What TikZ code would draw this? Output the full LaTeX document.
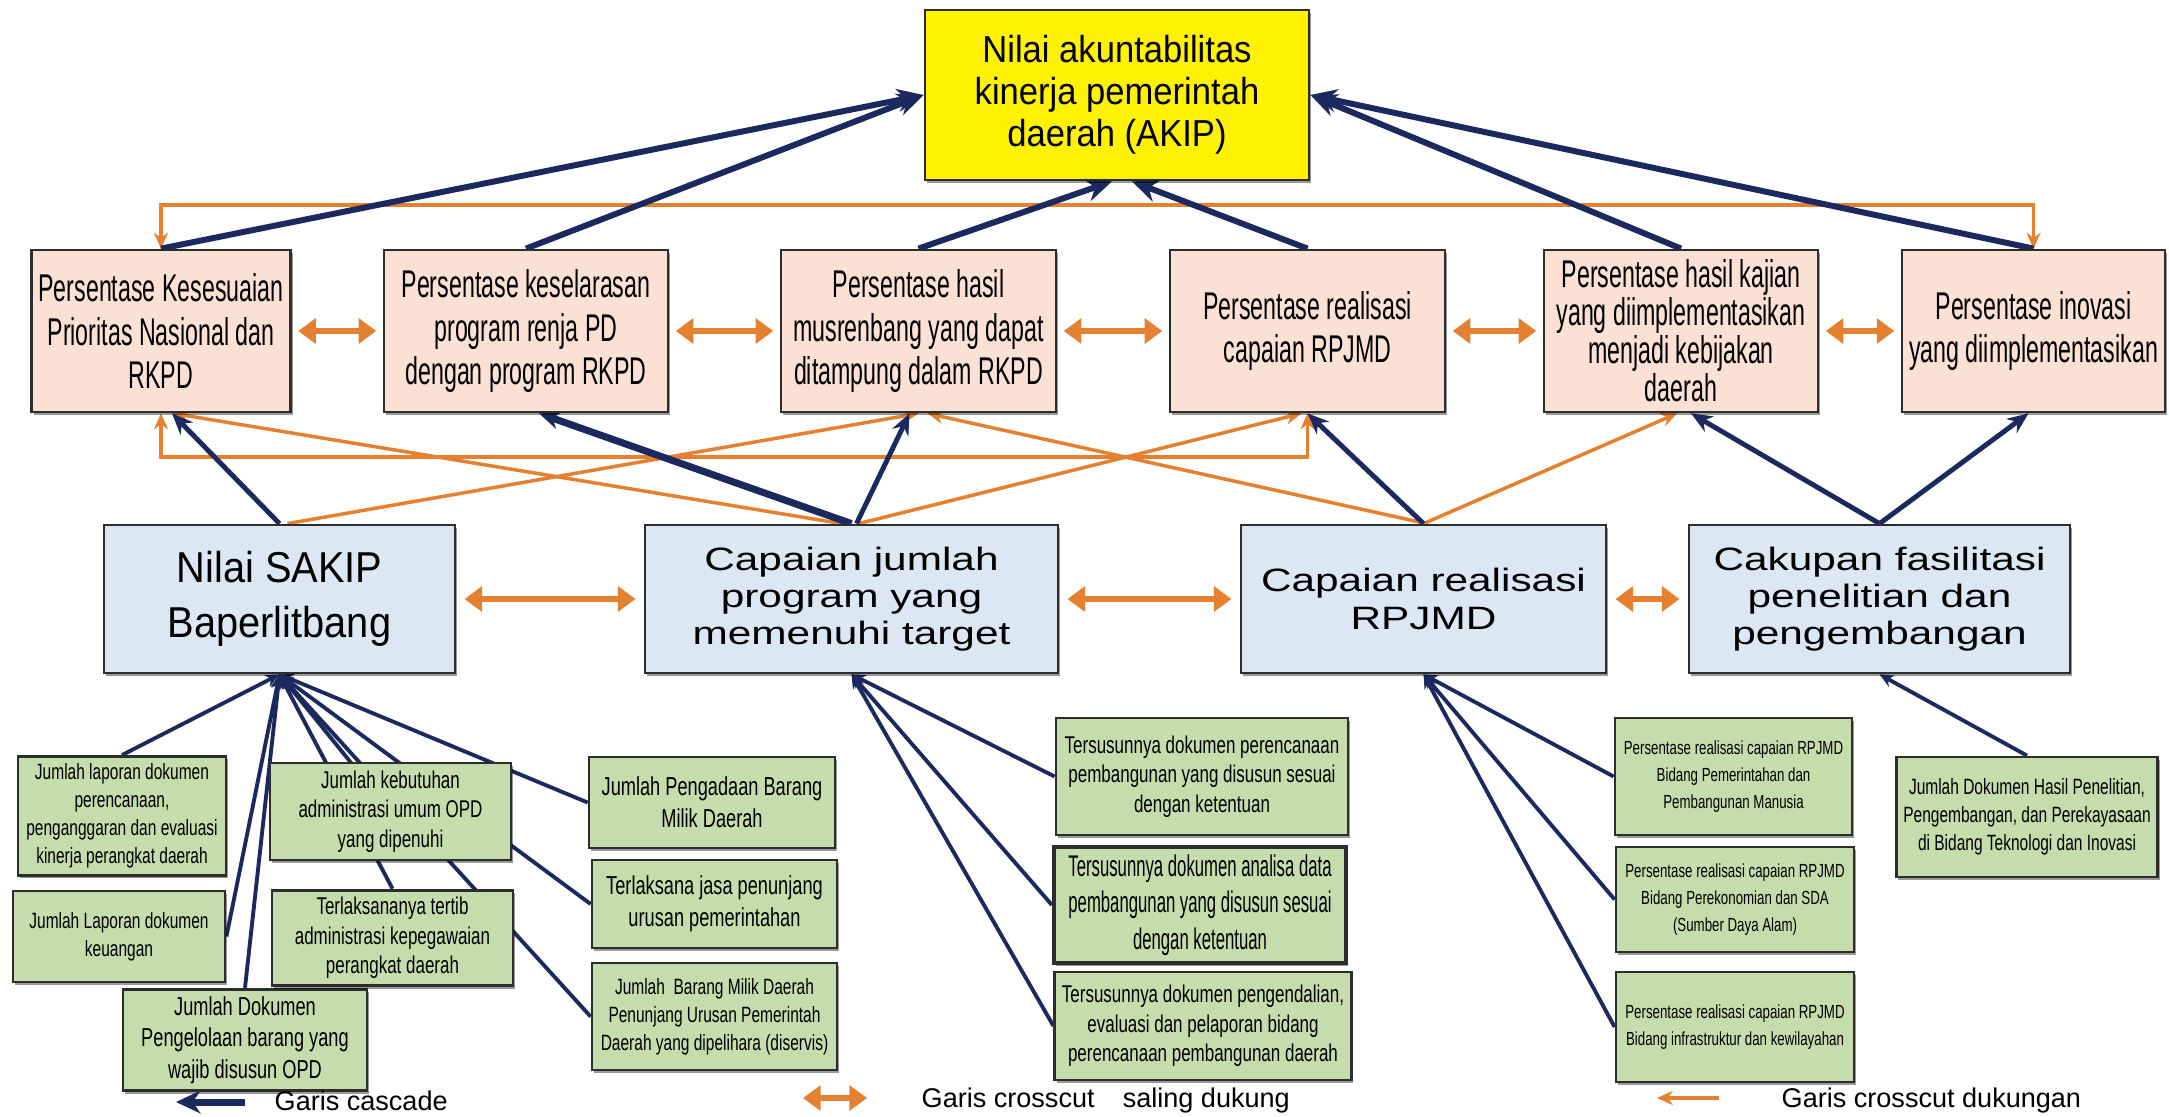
\documentclass[tikz,border=0pt]{standalone}
\usepackage{fontspec}
\usepackage{tikz}
\usetikzlibrary{arrows.meta,backgrounds,shadows}
\setmainfont{Liberation Sans}
\newfontfamily\narrowfont{Liberation Sans}[FakeStretch=0.92]
\newfontfamily\indfont{Liberation Sans}[FakeStretch=0.6]
\newfontfamily\widefont{Liberation Sans}[FakeStretch=1.31]
\newfontfamily\subfont{Liberation Sans}[FakeStretch=0.7]
\newfontfamily\tightfont{Liberation Sans}[FakeStretch=0.56]
\definecolor{cascadeblue}{RGB}{27,41,94}
\definecolor{crossorange}{RGB}{228,128,48}
\definecolor{peach}{RGB}{250,225,212}
\definecolor{skyfill}{RGB}{219,231,243}
\definecolor{leafgreen}{RGB}{197,220,172}
\definecolor{boxline}{RGB}{45,45,45}

\begin{document}
\begin{tikzpicture}[x=1cm,y=1cm,
  box/.style={draw=boxline, line width=0.8pt, align=center, inner sep=2pt,
    drop shadow={shadow xshift=0.6pt, shadow yshift=-0.8pt, fill=black, opacity=0.4}},
  goal/.style={box, fill=yellow, font=\narrowfont\fontsize{10.7}{12}\selectfont, minimum width=3.84cm, minimum height=1.70cm},
  ind/.style={box, fill=peach, font=\indfont\fontsize{11}{12.5}\selectfont, minimum height=1.62cm},
  indtight/.style={ind, font=\indfont\fontsize{11}{10.8}\selectfont},
  prog/.style={box, fill=skyfill, font=\widefont\fontsize{9.2}{10.6}\selectfont, minimum height=1.48cm},
  sakip/.style={prog, font=\narrowfont\fontsize{12.3}{15.5}\selectfont},
  sub/.style={box, fill=leafgreen, font=\subfont\fontsize{6.9}{8.4}\selectfont},
  subL/.style={sub, font=\subfont\fontsize{7.4}{9}\selectfont},
  subs/.style={sub, font=\subfont\fontsize{6.3}{8}\selectfont},
  subxs/.style={sub, font=\subfont\fontsize{5.4}{7.7}\selectfont},
  subT/.style={sub, line width=1.2pt, font=\tightfont\fontsize{8.5}{10.4}\selectfont},
  cascade/.style={draw=cascadeblue, line width=1.7pt, -{Stealth[length=7.5pt,width=6.5pt]}},
  rise/.style={draw=cascadeblue, line width=1.4pt, -{Stealth[length=6pt,width=5pt]}},
  feed/.style={draw=cascadeblue, line width=1.1pt, -{Stealth[length=4pt,width=3.6pt]}},
  mutual/.style={draw=crossorange, line width=1.7pt, {Triangle[length=5pt,width=7pt]}-{Triangle[length=5pt,width=7pt]}, shorten <=1.8pt, shorten >=1.8pt},
  support/.style={draw=crossorange, line width=1pt, -{Stealth[length=4.5pt,width=4pt]}},
  bracket/.style={draw=crossorange, line width=0.9pt, {Stealth[length=4.5pt,width=4pt]}-{Stealth[length=4.5pt,width=4pt]}},
  legend/.style={font=\fontsize{7.7}{9}\selectfont, anchor=west, inner sep=0pt}]

  \useasboundingbox (0,0) rectangle (21.69,11.16);

  \node[goal] (akip) at (11.17,10.21) {Nilai akuntabilitas\\kinerja pemerintah\\daerah (AKIP)};

  \node[ind, minimum width=2.50cm] (p1) at (1.61,7.85) {Persentase Kesesuaian\\Prioritas Nasional dan\\RKPD};
  \node[ind, minimum width=2.84cm] (p2) at (5.26,7.85) {Persentase keselarasan\\program renja PD\\dengan program RKPD};
  \node[ind, minimum width=2.75cm] (p3) at (9.185,7.85) {Persentase hasil\\musrenbang yang dapat\\ditampung dalam RKPD};
  \node[ind, minimum width=2.75cm] (p4) at (13.075,7.85) {Persentase realisasi\\capaian RPJMD};
  \node[indtight, minimum width=2.74cm] (p5) at (16.81,7.85) {Persentase hasil kajian\\yang diimplementasikan\\menjadi kebijakan\\daerah};
  \node[ind, minimum width=2.33cm] (p6) at (20.335,7.85) {Persentase inovasi\\yang diimplementasikan};

  \node[sakip, minimum width=3.51cm] (b1) at (2.795,5.17) {Nilai SAKIP\\Baperlitbang};
  \node[prog, minimum width=4.13cm] (b2) at (8.515,5.17) {Capaian jumlah\\program yang\\memenuhi target};
  \node[prog, minimum width=3.65cm] (b3) at (14.235,5.17) {Capaian realisasi\\RPJMD};
  \node[prog, minimum width=3.81cm] (b4) at (18.795,5.17) {Cakupan fasilitasi\\penelitian dan\\pengembangan};

  \node[subs, minimum width=2.08cm, minimum height=1.18cm] (g1) at (1.22,3.00) {Jumlah laporan dokumen\\perencanaan,\\penganggaran dan evaluasi\\kinerja perangkat daerah};
  \node[subs, minimum width=2.12cm, minimum height=0.91cm] (g2) at (1.19,1.795) {Jumlah Laporan dokumen\\keuangan};
  \node[subL, minimum width=2.44cm, minimum height=0.86cm] (g3) at (2.45,0.76) {Jumlah Dokumen\\Pengelolaan barang yang\\wajib disusun OPD};
  \node[sub, minimum width=2.41cm, minimum height=0.97cm] (g4) at (3.905,3.045) {Jumlah kebutuhan\\administrasi umum OPD\\yang dipenuhi};
  \node[sub, minimum width=2.41cm, minimum height=0.90cm] (g5) at (3.925,1.78) {Terlaksananya tertib\\administrasi kepegawaian\\perangkat daerah};
  \node[subL, minimum width=2.46cm, minimum height=0.91cm] (g6) at (7.12,3.135) {Jumlah Pengadaan Barang\\Milik Daerah};
  \node[subL, minimum width=2.45cm, minimum height=0.88cm] (g7) at (7.145,2.12) {Terlaksana jasa penunjang\\urusan pemerintahan};
  \node[subs, minimum width=2.45cm, minimum height=1.07cm] (g8) at (7.145,0.995) {Jumlah\ \ Barang Milik Daerah\\Penunjang Urusan Pemerintah\\Daerah yang dipelihara (diservis)};

  \node[sub, minimum width=2.92cm, minimum height=1.17cm] (g9) at (12.02,3.395) {Tersusunnya dokumen perencanaan\\pembangunan yang disusun sesuai\\dengan ketentuan};
  \node[subT, minimum width=2.92cm, minimum height=1.16cm] (g10) at (12.00,2.11) {Tersusunnya dokumen analisa data\\pembangunan yang disusun sesuai\\dengan ketentuan};
  \node[sub, minimum width=2.96cm, minimum height=1.08cm] (g11) at (12.03,0.90) {Tersusunnya dokumen pengendalian,\\evaluasi dan pelaporan bidang\\perencanaan pembangunan daerah};

  \node[subxs, minimum width=2.37cm, minimum height=1.17cm] (g12) at (17.335,3.395) {Persentase realisasi capaian RPJMD\\Bidang Pemerintahan dan\\Pembangunan Manusia};
  \node[subxs, minimum width=2.38cm, minimum height=1.05cm] (g13) at (17.35,2.165) {Persentase realisasi capaian RPJMD\\Bidang Perekonomian dan SDA\\(Sumber Daya Alam)};
  \node[subxs, minimum width=2.38cm, minimum height=1.10cm] (g14) at (17.35,0.89) {Persentase realisasi capaian RPJMD\\Bidang infrastruktur dan kewilayahan};
  \node[subs, minimum width=2.52cm, minimum height=1.20cm] (g15) at (20.27,2.99) {Jumlah Dokumen Hasil Penelitian,\\Pengembangan, dan Perekayasaan\\di Bidang Teknologi dan Inovasi};

  \coordinate (topbar) at (0,9.11);
  \coordinate (midbar) at (0,6.59);

  \begin{pgfonlayer}{background}
    \fill[white] (0,0) rectangle (21.69,11.16);

    \draw[bracket] (p1.north) -- (p1.north |- topbar) -- (p6.north |- topbar) -- (p6.north);
    \draw[bracket] (p1.south) -- (p1.south |- midbar) -- (p4.south |- midbar) -- (p4.south);

    \draw[support] ([xshift=0.08cm]b1.north) -- (p3.south);
    \draw[support] ([xshift=-0.1cm]b2.north) -- ([xshift=0.12cm]p1.south);
    \draw[support] ([xshift=0.07cm]b2.north) -- ([xshift=-0.06cm]p4.south);
    \draw[support] ([xshift=0.03cm]b3.north) -- ([xshift=0.09cm]p3.south);
    \draw[support] (b3.north) -- ([xshift=-0.04cm]p5.south);

    \draw[cascade] (p1.north) -- (akip.west);
    \draw[cascade] (p2.north) -- (akip.west);
    \draw[cascade] (p3.north) -- ([xshift=-0.05cm]akip.south);
    \draw[cascade] (p4.north) -- ([xshift=0.15cm]akip.south);
    \draw[cascade] (p5.north) -- (akip.east);
    \draw[cascade] (p6.north) -- (akip.east);

    \draw[rise] (b1.north) -- ([xshift=0.11cm]p1.south);
    \draw[rise, line width=2pt] (b2.north) -- ([xshift=0.13cm]p2.south);
    \draw[rise] ([xshift=0.05cm]b2.north) -- ([xshift=-0.09cm]p3.south);
    \draw[rise] (b3.north) -- (p4.south);
    \draw[rise] (b4.north) -- ([xshift=0.1cm]p5.south);
    \draw[rise] (b4.north) -- ([xshift=-0.05cm]p6.south);

    \draw[feed] (g1.north) -- (b1.south);
    \draw[feed] (g2.east) -- (b1.south);
    \draw[feed] (g3.north) -- (b1.south);
    \draw[feed] (g4.center) -- (b1.south);
    \draw[feed] (g5.north) -- (b1.south);
    \draw[feed] (g6.west) -- (b1.south);
    \draw[feed] (g7.west) -- (b1.south);
    \draw[feed] (g8.west) -- (b1.south);
    \draw[feed] (g9.west) -- (b2.south);
    \draw[feed] (g10.west) -- (b2.south);
    \draw[feed] (g11.west) -- (b2.south);
    \draw[feed] (g12.west) -- (b3.south);
    \draw[feed] (g13.west) -- (b3.south);
    \draw[feed] (g14.west) -- (b3.south);
    \draw[feed] (g15.north) -- (b4.south);
  \end{pgfonlayer}

  \draw[mutual] (p1.east) -- (p2.west);
  \draw[mutual] (p2.east) -- (p3.west);
  \draw[mutual] (p3.east) -- (p4.west);
  \draw[mutual] (p4.east) -- (p5.west);
  \draw[mutual] (p5.east) -- (p6.west);
  \draw[mutual, shorten <=2.3pt, shorten >=2.3pt] (b1.east) -- (b2.west);
  \draw[mutual, shorten <=2.3pt, shorten >=2.3pt] (b2.east) -- (b3.west);
  \draw[mutual, shorten <=2.3pt, shorten >=2.3pt] (b3.east) -- (b4.west);

  \coordinate (lgA1) at (2.45,0.14);
  \coordinate (lgA2) at (1.76,0.14);
  \coordinate (lgB1) at (8.03,0.18);
  \coordinate (lgB2) at (8.67,0.18);
  \coordinate (lgC1) at (17.19,0.18);
  \coordinate (lgC2) at (16.57,0.18);
  \draw[draw=cascadeblue, line width=2pt, -{Stealth[length=7pt,width=6.5pt]}] (lgA1) -- (lgA2);
  \draw[mutual, shorten <=0pt, shorten >=0pt] (lgB1) -- (lgB2);
  \draw[support, line width=1.2pt] (lgC1) -- (lgC2);
  \node[legend] (lgA) at (2.74,0.15) {Garis cascade};
  \node[legend] (lgB) at (9.21,0.16) {Garis crosscut\hspace{1.04em}saling dukung};
  \node[legend] (lgC) at (17.81,0.16) {Garis crosscut dukungan};
\end{tikzpicture}
\end{document}
